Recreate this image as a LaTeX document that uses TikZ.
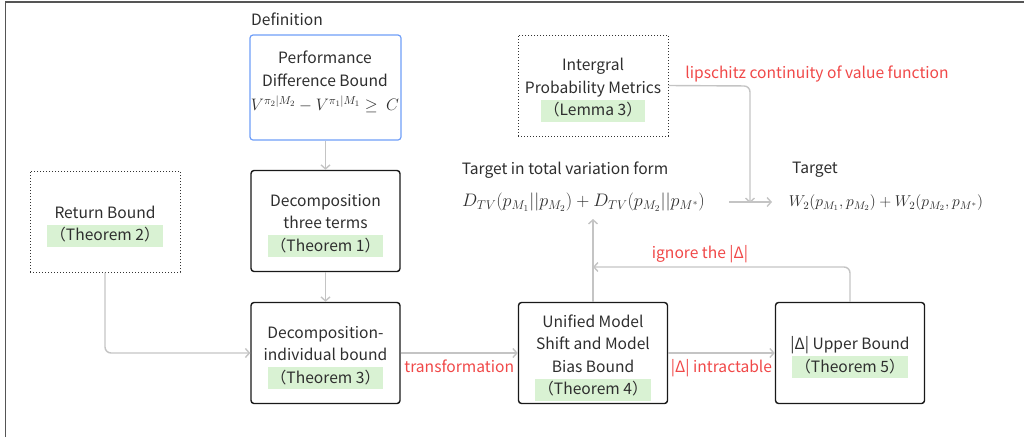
\RequirePackage{fix-cm}
\documentclass[tikz,border=0pt]{standalone}
\usepackage[no-math]{fontspec}
\usepackage{amsmath}
\setmainfont{Noto Sans CJK SC}
\usetikzlibrary{arrows.meta}
\definecolor{thmgreen}{HTML}{D9F2D3}
\definecolor{redtxt}{HTML}{F04848}
\definecolor{bluebox}{HTML}{6F9EF8}
\definecolor{arrowgray}{HTML}{C4C4C4}
\definecolor{framegray}{HTML}{555555}
\definecolor{txt}{HTML}{2E2E2E}
\newcommand{\thmhl}[1]{{\setlength{\fboxsep}{0pt}\colorbox{thmgreen}{\hspace{3pt}\rule[-6pt]{0pt}{22pt}#1\hspace{3pt}}}}
\newcommand{\topst}{\rule{0pt}{21.5pt}}
\tikzset{
  x=1pt, y=-1pt,
  every node/.style={font=\fontsize{15.6}{22.5}\selectfont, text=txt, inner sep=0pt},
  solidbox/.style={draw=black!90, line width=1.4pt, rounded corners=3pt, minimum width=149pt, minimum height=101pt, align=center},
  dotbox/.style={draw=black!80, line width=1pt, dotted, minimum width=150pt, minimum height=101pt, align=center},
  conn/.style={draw=arrowgray, line width=1.4pt, -{Straight Barb[length=4pt,width=9pt]}, rounded corners=6pt},
  redlabel/.style={text=redtxt},
}
\begin{document}
\begin{tikzpicture}
\useasboundingbox (0,0) rectangle (1024,437);
% outer frame (partial)
\draw[framegray, line width=1.5pt] (5.5,437) -- (5.5,2) -- (1024,2);

% Definition
\node (deflabel) at (287,19) {Definition};
\node[draw=bluebox, line width=1.2pt, rounded corners=3pt, minimum width=151pt, minimum height=105pt] (perf) at (325.5,87.5) {};
\node[align=center] (perftext) at (325,82) {Performance\\Difference Bound\\[2pt]{\fontsize{16.6}{20}\selectfont$V^{\pi_2|M_2}-V^{\pi_1|M_1}\geq\ C$}};

% boxes
\node[solidbox] (dec3) at (325.5,221) {\topst Decomposition\\three terms\\\thmhl{（Theorem 1）}};
\node[solidbox] (deci) at (325.5,353) {\topst Decomposition-\\individual bound\\\thmhl{（Theorem 3）}};
\node[dotbox] (ret) at (105,221.5) {\topst Return Bound\\\thmhl{（Theorem 2）}};
\node[solidbox] (uni) at (593,353) {\topst Unified Model\\Shift and Model\\Bias Bound\\\thmhl{（Theorem 4）}};
\node[solidbox] (upper) at (850,353) {\topst |Δ| Upper Bound\\\thmhl{（Theorem 5）}};
\node[dotbox] (ipm) at (593,85.5) {\topst Intergral\\Probability Metrics\\\thmhl{（Lemma 3）}};

% targets
\node (tvlabel) at (565,170) {Target in total variation form};
\node[font=\fontsize{18.1}{22}\selectfont] (tv) at (583.5,202) {$D_{TV}(p_{M_1}||p_{M_2})+D_{TV}(p_{M_2}||p_{M^*})$};
\node (wlabel) at (815,170) {Target};
\node[font=\fontsize{15.7}{20}\selectfont] (w2) at (886,203) {$W_2(p_{M_1},p_{M_2})+W_2(p_{M_2},p_{M^*})$};

% connectors
\draw[conn] (perf.south) -- (dec3.north);
\draw[conn] (dec3.south) -- (deci.north);
\draw[conn] (ret.south) -- (ret.south |- deci.west) -- (deci.west);
\draw[conn] (deci.east) -- node[below=6pt, redlabel] (lbltrans) {transformation} (uni.west);
\draw[conn] (uni.east) -- node[below=6pt, redlabel] (lblintr) {|Δ| intractable} (upper.west);
\coordinate (join) at (uni.north |- 0,267);
\draw[conn] (upper.north) -- (upper.north |- join) -- (join);
\node[redlabel] (lblignore) at (700,254) {ignore the |Δ|};
\draw[conn] (uni.north) -- (uni.north |- 0,219);
\coordinate (tvend) at (729,202);
\coordinate (wstart) at (772,202);
\draw[conn] (tvend) -- (wstart);
\draw[conn] (ipm.east) -- (750,86) -- (750,203);
\node[redlabel] (lblip) at (817,74) {lipschitz continuity of value function};
\end{tikzpicture}
\end{document}
